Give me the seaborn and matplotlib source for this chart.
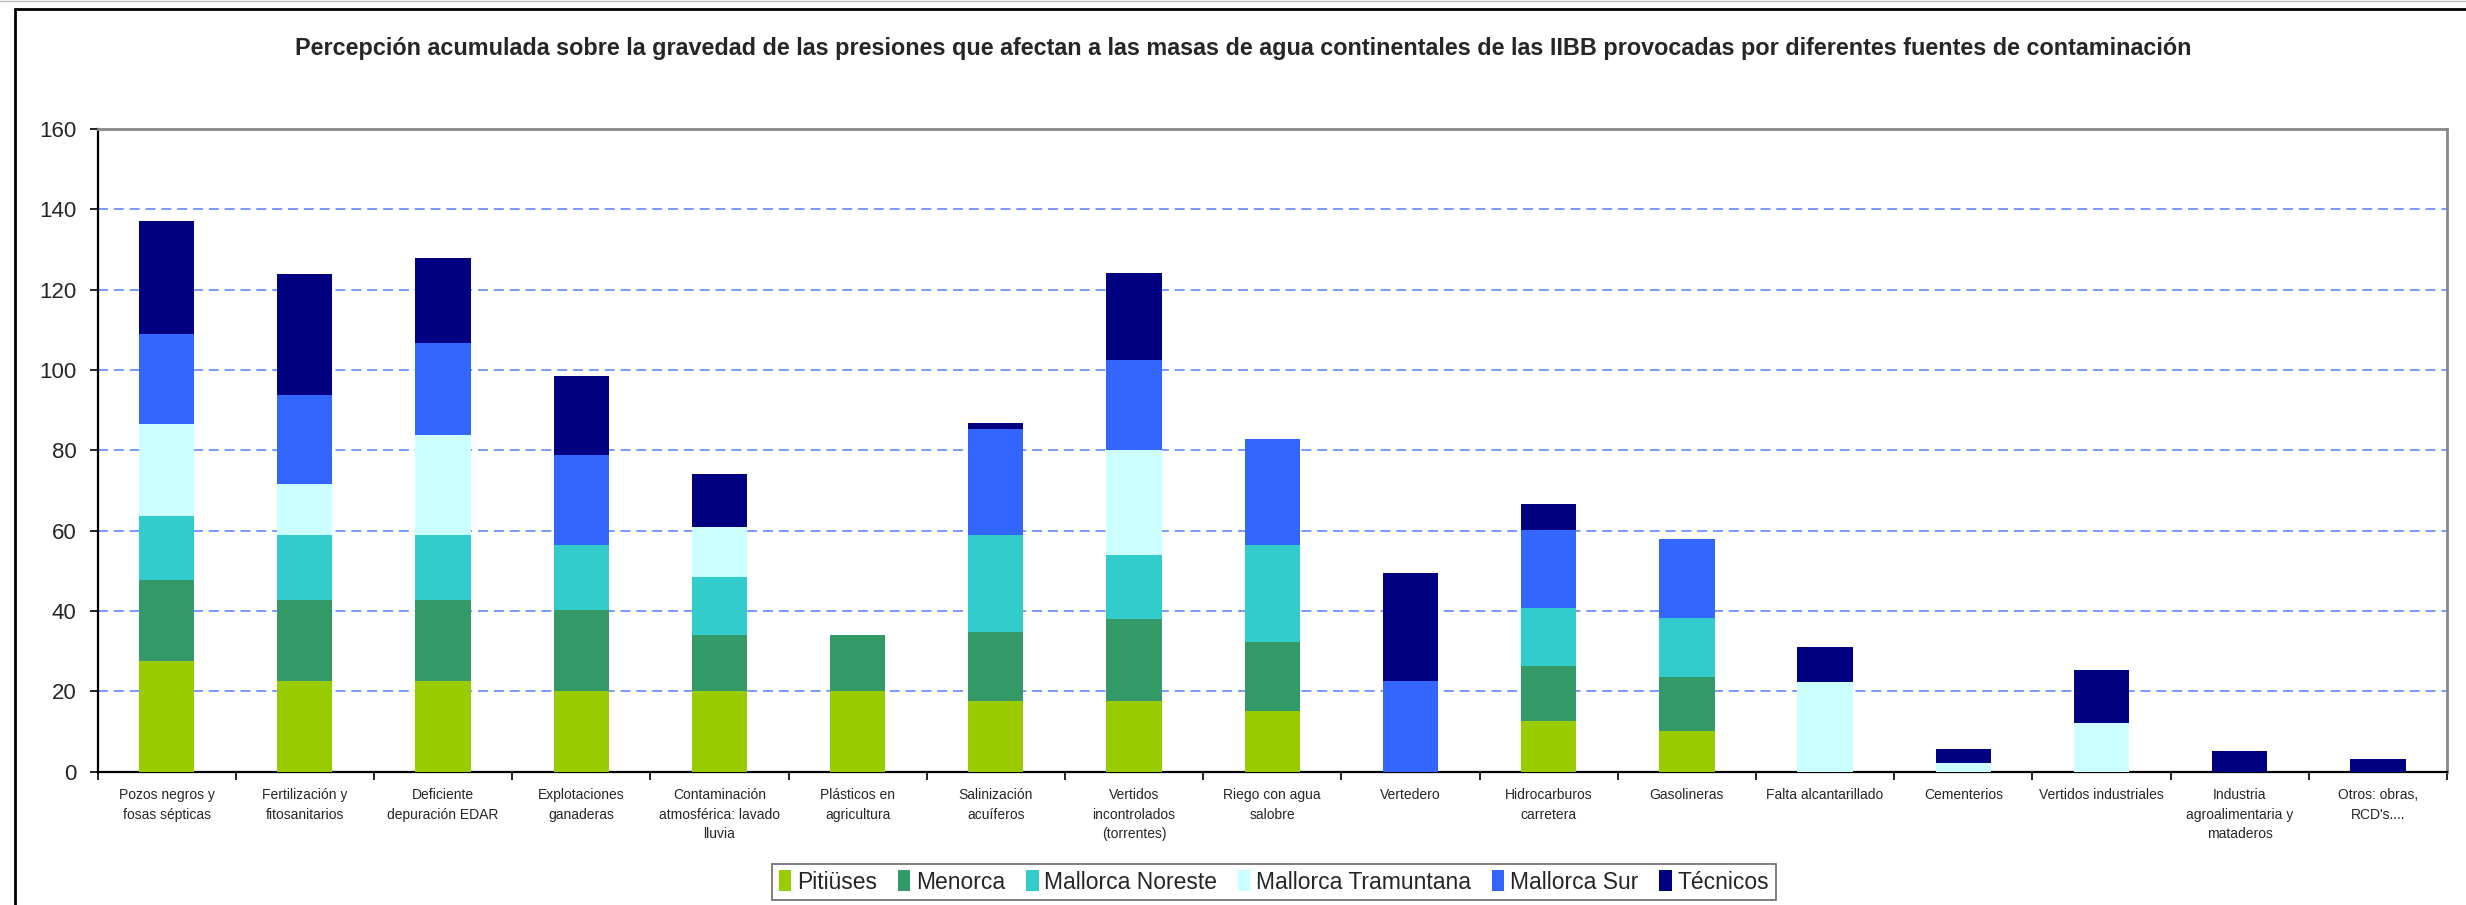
import numpy as np
import pandas as pd
import matplotlib
matplotlib.use("Agg")
import matplotlib.pyplot as plt
import seaborn as sns
from matplotlib.patches import Patch
from matplotlib.lines import Line2D
from matplotlib.ticker import FixedLocator

categories = [
    "Pozos negros y\nfosas sépticas",
    "Fertilización y\nfitosanitarios",
    "Deficiente\ndepuración EDAR",
    "Explotaciones\nganaderas",
    "Contaminación\natmosférica: lavado\nlluvia",
    "Plásticos en\nagricultura",
    "Salinización\nacuíferos",
    "Vertidos\nincontrolados\n(torrentes)",
    "Riego con agua\nsalobre",
    "Vertedero",
    "Hidrocarburos\ncarretera",
    "Gasolineras",
    "Falta alcantarillado",
    "Cementerios",
    "Vertidos industriales",
    "Industria\nagroalimentaria y\nmataderos",
    "Otros: obras,\nRCD's....",
]

pitiuses = [27.5, 22.5, 22.5, 20.0, 20.0, 20.0, 17.5, 17.5, 15.0, 0, 12.5, 10.0, 0, 0, 0, 0, 0]
menorca = [20.2, 20.3, 20.3, 20.3, 14.0, 14.0, 17.3, 20.4, 17.3, 0, 13.7, 13.5, 0, 0, 0, 0, 0]
mallorca_noreste = [16.0, 16.0, 16.0, 16.0, 14.4, 0, 24.0, 16.0, 24.0, 0, 14.6, 14.7, 0, 0, 0, 0, 0]
mallorca_tramuntana = [22.8, 12.7, 25.1, 0, 12.5, 0, 0, 26.1, 0, 0, 0, 0, 22.4, 2.2, 12.2, 0, 0]
mallorca_sur = [22.5, 22.3, 22.7, 22.6, 0, 0, 26.6, 22.4, 26.6, 22.5, 19.4, 19.6, 0, 0, 0, 0, 0]
tecnicos = [28.2, 30.2, 21.3, 19.5, 13.2, 0, 1.3, 21.7, 0, 26.9, 6.5, 0, 8.7, 3.5, 13.1, 5.2, 3.0]

series_names = ["Pitiüses", "Menorca", "Mallorca Noreste", "Mallorca Tramuntana",
                "Mallorca Sur", "Técnicos"]
series_values = [pitiuses, menorca, mallorca_noreste, mallorca_tramuntana,
                 mallorca_sur, tecnicos]
colors = ["#99CC00", "#339966", "#33CCCC", "#CCFFFF", "#3366FF", "#000080"]

title = ("Percepción acumulada sobre la gravedad de las presiones que afectan a las masas "
         "de agua continentales de las IIBB provocadas por diferentes fuentes de contaminación")

sns.set_theme(style="white")
plt.rcParams["font.family"] = ["Liberation Sans", "DejaVu Sans"]

fig = plt.figure(figsize=(24.66, 9.05), dpi=100)
ax = fig.add_axes([97.5 / 2466, 1 - 771.5 / 905, (2447 - 97.5) / 2466, (771.5 - 129) / 905])

cum = np.cumsum(np.array(series_values, dtype=float), axis=0)
df = pd.DataFrame({"cat": categories})
for i in range(len(series_names) - 1, -1, -1):
    d = df.copy()
    d["val"] = cum[i]
    sns.barplot(data=d, x="cat", y="val", color=colors[i], width=0.4, saturation=1,
                ax=ax, zorder=3, linewidth=0, errorbar=None)

ax.set_xlim(-0.5, len(categories) - 0.5)
ax.set_ylim(0, 160)
ax.set_yticks(range(0, 161, 20))
ax.set_xlabel("")
ax.set_ylabel("")

for y in range(20, 160, 20):
    ax.axhline(y, color="#6688FF", lw=1.2, ls=(0, (6, 3.5)), zorder=1)

ax.tick_params(axis="y", labelsize=16, length=6, width=1.2, color="black", pad=9,
               direction="out", left=True)
ax.xaxis.set_minor_locator(FixedLocator(np.arange(-0.5, len(categories), 1)))
ax.tick_params(axis="x", which="major", length=0, pad=12, labelsize=10)
ax.tick_params(axis="x", which="minor", length=6, width=1.2, color="black",
               direction="out", bottom=True)
for lbl in ax.get_xticklabels():
    lbl.set_linespacing(1.5)
    lbl.set_va("top")

for s in ["left", "bottom"]:
    ax.spines[s].set_color("black")
    ax.spines[s].set_linewidth(1.6)
for s in ["top", "right"]:
    ax.spines[s].set_color("#888888")
    ax.spines[s].set_linewidth(2)
ax.grid(False)

fig.text(0.504, 1 - 48 / 905, title, ha="center", va="center", fontsize=16.8,
         fontweight="bold")

# outer frame lines (top and left)
fig.add_artist(Line2D([15 / 2466, 1], [1 - 9 / 905, 1 - 9 / 905], color="black", lw=2,
                      transform=fig.transFigure))
fig.add_artist(Line2D([15 / 2466, 15 / 2466], [0, 1 - 9 / 905], color="black", lw=2,
                      transform=fig.transFigure))
fig.add_artist(Line2D([0, 1], [1 - 1 / 905, 1 - 1 / 905], color="#BBBBBB", lw=1,
                      transform=fig.transFigure))

handles = [Patch(facecolor=c, edgecolor="none", label=n) for c, n in zip(colors, series_names)]
leg = fig.legend(handles=handles, loc="center", bbox_to_anchor=(1274 / 2466, 1 - 882 / 905),
                 ncol=6, fontsize=16.5, frameon=True, fancybox=False, handlelength=0.55,
                 handleheight=1.0, handletextpad=0.25, columnspacing=0.9, borderpad=0.3,
                 edgecolor="#444444", borderaxespad=0)
leg.get_frame().set_linewidth(1.2)

fig.savefig("out.png", dpi=100, facecolor="white")
